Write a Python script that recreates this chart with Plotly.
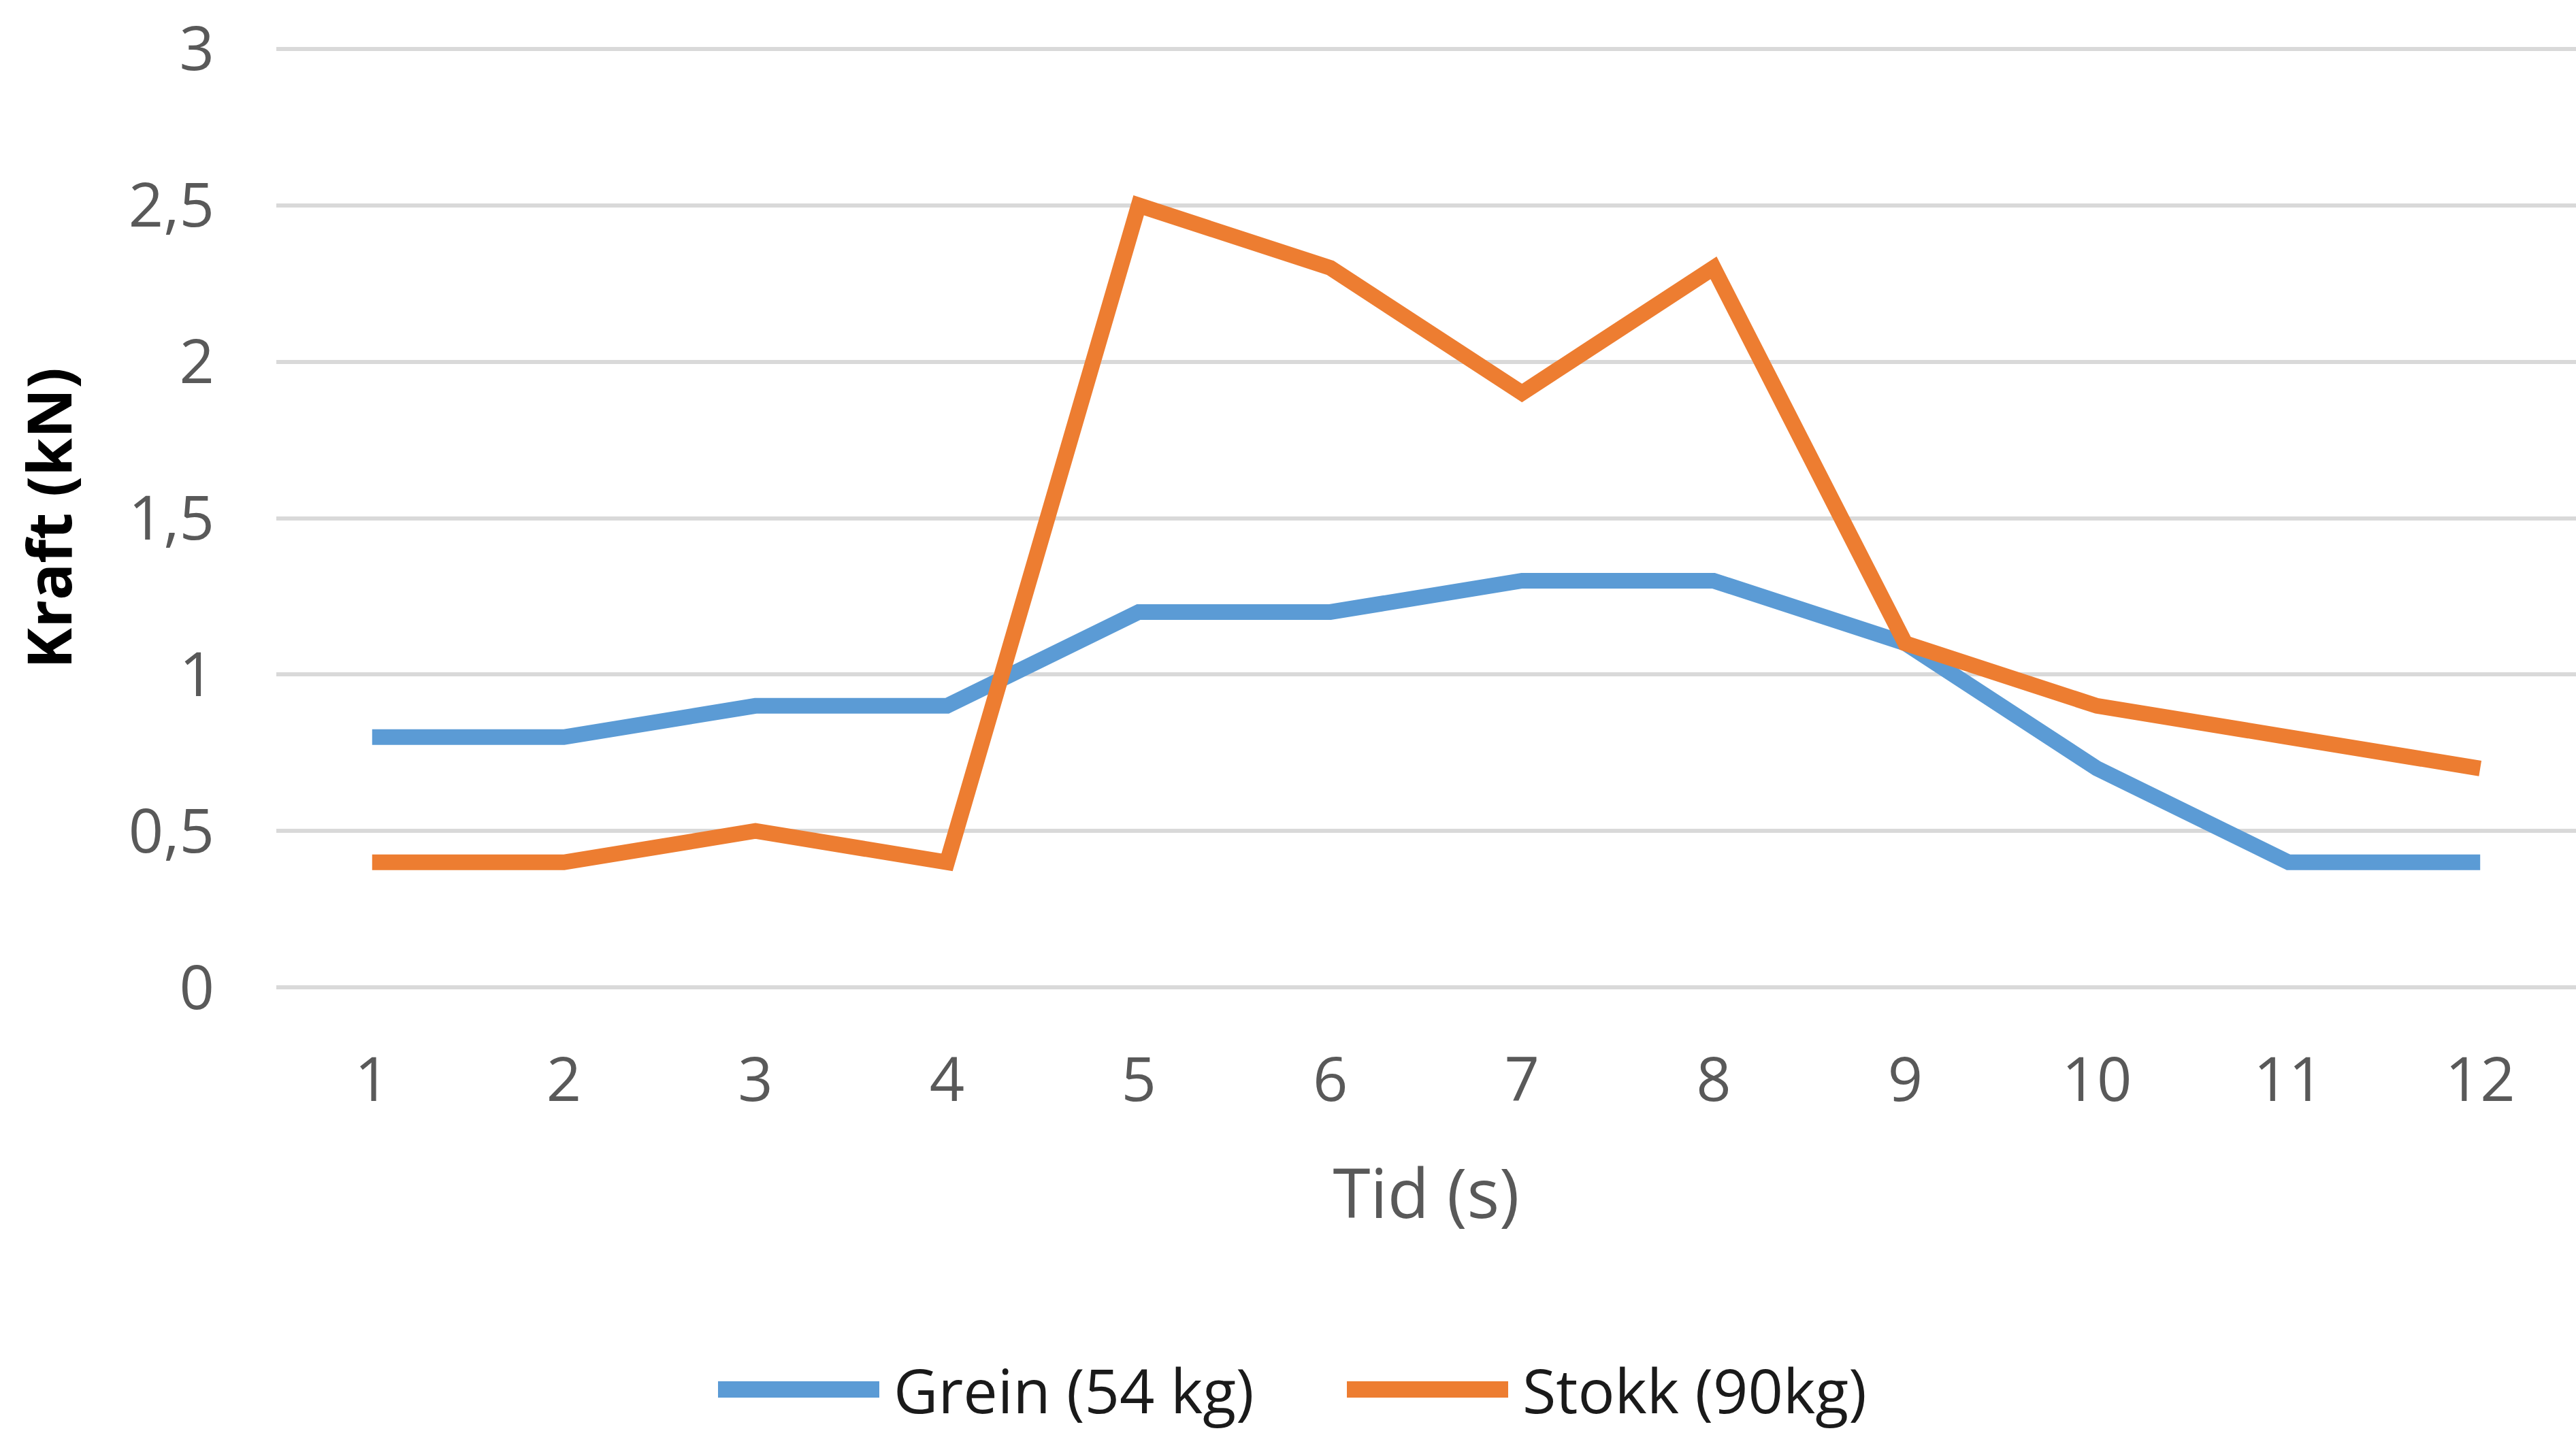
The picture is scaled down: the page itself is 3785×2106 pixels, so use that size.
import plotly.graph_objects as go

# Force measurements (kN) per second
tid = [1, 2, 3, 4, 5, 6, 7, 8, 9, 10, 11, 12]
grein = [0.8, 0.8, 0.9, 0.9, 1.2, 1.2, 1.3, 1.3, 1.1, 0.7, 0.4, 0.4]
stokk = [0.4, 0.4, 0.5, 0.4, 2.5, 2.3, 1.9, 2.3, 1.1, 0.9, 0.8, 0.7]

serie_navn = ["Grein (54 kg)", "Stokk (90kg)"]
farger = ["#5B9BD5", "#ED7D31"]

y_ticks = [0, 0.5, 1, 1.5, 2, 2.5, 3]
y_tick_text = ["0", "0,5", "1", "1,5", "2", "2,5", "3"]

W, H = 3785, 2106
ML, MR, MT, MB = 406, 0, 70, 653
FONT = "Open Sans"

fig = go.Figure()
for navn, verdier, farge in zip(serie_navn, [grein, stokk], farger):
    fig.add_trace(go.Scatter(
        x=tid, y=verdier, mode="lines", name=navn,
        line=dict(color=farge, width=23),
        showlegend=False,
    ))

# Legend drawn below the plot: a thick swatch line followed by the series name
plot_w = W - ML - MR
plot_h = H - MT - MB
def px_x(p):
    return (p - ML) / plot_w
def px_y(p):
    return (H - MB - p) / plot_h

legend_items = [(1055, 1292, 1311), (1979, 2216, 2235)]
legend_y = 2042
for (x0, x1, tx), navn, farge in zip(legend_items, serie_navn, farger):
    fig.add_shape(type="line", xref="paper", yref="paper",
                  x0=px_x(x0), x1=px_x(x1), y0=px_y(legend_y), y1=px_y(legend_y),
                  line=dict(color=farge, width=24))
    fig.add_annotation(xref="paper", yref="paper", x=px_x(tx), y=px_y(legend_y),
                       text=navn, showarrow=False, xanchor="left", yanchor="middle",
                       font=dict(family=FONT, size=90, color="#1a1a1a"))

fig.update_layout(
    width=W, height=H,
    margin=dict(l=ML, r=MR, t=MT, b=MB, autoexpand=False),
    paper_bgcolor="white", plot_bgcolor="white",
    font=dict(family=FONT),
)
fig.update_xaxes(
    range=[0.5, 12.5], tickvals=tid, ticktext=[str(t) for t in tid],
    showgrid=False, zeroline=False, showline=False, ticks="",
    tickfont=dict(family=FONT, size=90, color="#595959"),
    ticklabelstandoff=74,
    title=dict(text="Tid (s)", font=dict(family=FONT, size=100, color="#595959"), standoff=76),
    automargin=False,
)
fig.update_yaxes(
    range=[-0.004, 3.004], tickvals=y_ticks, ticktext=y_tick_text,
    showgrid=True, gridcolor="#D9D9D9", gridwidth=6,
    zeroline=False, showline=False, ticks="",
    tickfont=dict(family=FONT, size=90, color="#595959"),
    ticklabelstandoff=90,
    title=dict(text="<b>Kraft (kN)</b>", font=dict(family=FONT, size=90, color="#000000"), standoff=53),
    automargin=False,
)

fig.write_html("out.html")
